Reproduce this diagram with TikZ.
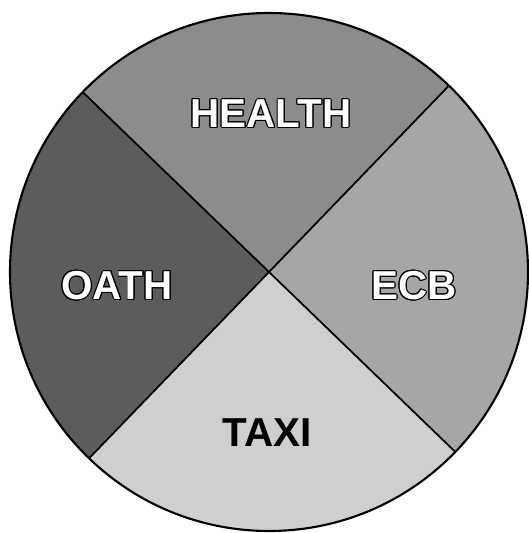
\documentclass[tikz,border=0pt]{standalone}
\usepackage{fontspec}
\setsansfont{Liberation Sans}
\usepackage{xcolor}
\usepackage{contour}
\usetikzlibrary{positioning}
\contourlength{0.5pt}
\definecolor{healthgray}{HTML}{8C8C8C}
\definecolor{oathgray}{HTML}{5C5C5C}
\definecolor{ecbgray}{HTML}{A6A6A6}
\definecolor{taxigray}{HTML}{CFCFCF}

\begin{document}
\begin{tikzpicture}[
  font=\sffamily\bfseries\fontsize{23}{23}\selectfont,
  rim/.style={draw=black,line width=1.2pt},
  seam/.style={draw=black,line width=1pt},
  lbl/.style={inner sep=0pt,text=white},
  dark/.style={inner sep=0pt,text=black}]
  \useasboundingbox (0,0) rectangle (10.56,10.66);
  \def\rr{5.18}
  \coordinate (c) at (5.38,5.22);
  % the four slices
  \foreach \a/\b/\col in {46/136/healthgray,136/226/oathgray,226/316/taxigray,-44/46/ecbgray}
    \fill[\col] (c) -- ([shift={(\a:\rr)}]c) arc[start angle=\a,end angle=\b,radius=\rr] -- cycle;
  \coordinate (ne) at ([shift={(46:\rr)}]c);
  \coordinate (nw) at ([shift={(136:\rr)}]c);
  \coordinate (sw) at ([shift={(226:\rr)}]c);
  \coordinate (se) at ([shift={(316:\rr)}]c);
  \draw[seam] (nw) -- (se);
  \draw[seam] (sw) -- (ne);
  \draw[rim] (c) circle[radius=\rr];
  \node[lbl] (health) at (5.42,8.38) {\contour{black}{HEALTH}};
  \node[lbl] (oath) at (2.34,4.94) {\contour{black}{OATH}};
  \node[lbl] (ecb) at (8.28,4.94) {\contour{black}{ECB}};
  \node[dark] (taxi) at (5.34,2.00) {TAXI};
\end{tikzpicture}
\end{document}
